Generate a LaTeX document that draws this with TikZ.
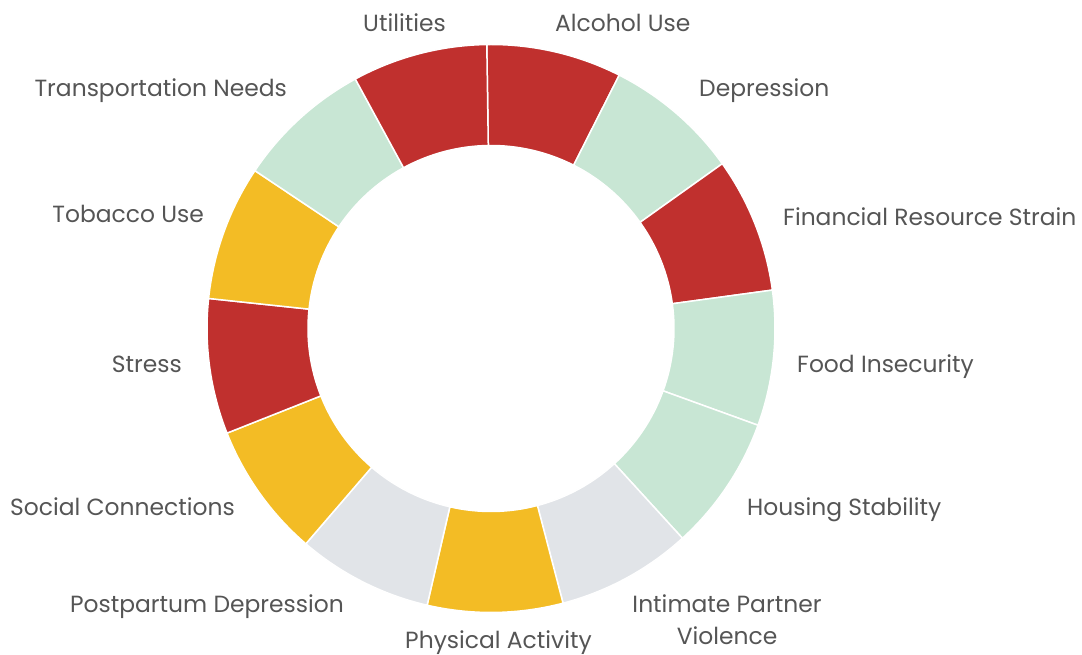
\documentclass[tikz,border=0pt]{standalone}
\usepackage{fontspec}
\setmainfont{Poppins}
\begin{document}
\begin{tikzpicture}[x=1pt,y=1pt,
  lab/.style={inner sep=0pt,text=txt,font=\fontsize{23.4}{28}\selectfont},
  seg/.style={draw=white,line width=1.5pt,line join=miter}]
\definecolor{cred}{HTML}{C0302E}
\definecolor{cgreen}{HTML}{C8E6D4}
\definecolor{cyellow}{HTML}{F3BC25}
\definecolor{cgray}{HTML}{E1E4E8}
\definecolor{txt}{HTML}{555555}
\useasboundingbox (0,0) rectangle (1082,655);
\coordinate (c) at (491,326.5);
\def\Ro{284}\def\Ri{183}\def\dA{27.6923}\def\aO{90.85}
\foreach \col [count=\k from 0] in {cred,cgreen,cred,cgreen,cgreen,cgray,cyellow,cgray,cyellow,cred,cyellow,cgreen,cred}{
  \pgfmathsetmacro\aa{\aO-\k*\dA}
  \pgfmathsetmacro\ab{\aO-(\k+1)*\dA}
  \path[seg,fill=\col] (c) ++(\aa:\Ro) arc[start angle=\aa,end angle=\ab,radius=\Ro]
     -- ++(\ab+180:\Ro-\Ri) arc[start angle=\ab,end angle=\aa,radius=\Ri] -- cycle;
}
\node[lab,anchor=base east] (utl) at (446,623) {Utilities};
\node[lab,anchor=base west] (alc) at (555,623) {Alcohol Use};
\node[lab,anchor=base west] (dep) at (699,558) {Depression};
\node[lab,anchor=base west] (fin) at (783,429) {Financial Resource Strain};
\node[lab,anchor=base west] (food) at (797,282) {Food Insecurity};
\node[lab,anchor=base west] (hous) at (747,139) {Housing Stability};
\node[lab,anchor=base,align=center] (ipv1) at (727,42) {Intimate Partner};
\node[lab,anchor=base,align=center] (ipv2) at (727,10) {Violence};
\node[lab,anchor=base] (phys) at (498.5,6) {Physical Activity};
\node[lab,anchor=base east] (post) at (344,42) {Postpartum Depression};
\node[lab,anchor=base east] (soc) at (235,139) {Social Connections};
\node[lab,anchor=base east] (str) at (182,282) {Stress};
\node[lab,anchor=base east] (tob) at (204,432) {Tobacco Use};
\node[lab,anchor=base east] (trn) at (287,558) {Transportation Needs};
\end{tikzpicture}
\end{document}
